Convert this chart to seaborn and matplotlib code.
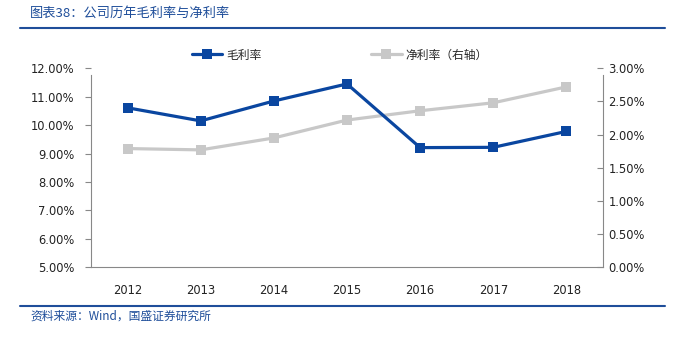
import matplotlib
matplotlib.use("Agg")
import matplotlib.pyplot as plt
import seaborn as sns
import pandas as pd
from matplotlib.lines import Line2D
from matplotlib.ticker import FuncFormatter, FixedLocator

years = ["2012", "2013", "2014", "2015", "2016", "2017", "2018"]
gross_margin = [10.61, 10.15, 10.85, 11.45, 9.21, 9.22, 9.78]
net_margin = [1.79, 1.77, 1.95, 2.22, 2.36, 2.48, 2.72]
left_ticks = [5, 6, 7, 8, 9, 10, 11, 12]
right_ticks = [0, 0.5, 1.0, 1.5, 2.0, 2.5, 3.0]

title_text = "图表38：公司历年毛利率与净利率"
source_text = "资料来源：Wind，国盛证券研究所"
label_gm = "毛利率"
label_nm = "净利率（右轴）"

BLUE = "#0A46A0"
GRAY = "#C8C8C8"
TXTBLUE = "#1F4E9A"

sns.set_style("white")
plt.rcParams['font.family'] = ['DejaVu Sans', 'Noto Sans CJK SC']
cjk = ['Noto Sans CJK SC', 'DejaVu Sans']

df = pd.DataFrame({"year": years, "gm": gross_margin, "nm": net_margin})

fig = plt.figure(figsize=(6.77, 3.39), dpi=100)
ax = fig.add_axes([91/677, 1-267.3/339, (603-91)/677, (267.3-68.3)/339])
ax2 = ax.twinx()

sns.lineplot(data=df, x="year", y="nm", ax=ax2, color=GRAY, lw=2.3,
             marker="s", markersize=7, markeredgewidth=0, sort=False)
sns.lineplot(data=df, x="year", y="gm", ax=ax, color=BLUE, lw=2.3,
             marker="s", markersize=7, markeredgewidth=0, sort=False)
ax.set_zorder(ax2.get_zorder() + 1)
ax.patch.set_visible(False)

ax.set_xlim(-0.5, len(years) - 0.5)
ax.set_ylim(5, 12)
ax2.set_ylim(0, 3)
ax.set_xlabel("")
ax.set_ylabel("")
ax2.set_ylabel("")

ax.yaxis.set_major_locator(FixedLocator(left_ticks))
ax2.yaxis.set_major_locator(FixedLocator(right_ticks))
ax.yaxis.set_major_formatter(FuncFormatter(lambda v, p: f"{v:.2f}%"))
ax2.yaxis.set_major_formatter(FuncFormatter(lambda v, p: f"{v:.2f}%"))

ax.set_xticks(range(len(years)))
ax.set_xticklabels(years)
ax.set_xticks([i + 0.5 for i in range(len(years) - 1)], minor=True)
ax.tick_params(axis="x", which="major", length=0, labelsize=8.3, colors="#222222", pad=12)
ax.tick_params(axis="x", which="minor", length=4, direction="in", color="#888888", width=0.8)
ax.tick_params(axis="y", which="major", length=4, direction="out", color="#888888",
               width=0.8, labelsize=8.3, labelcolor="#222222", pad=8)
ax2.tick_params(axis="y", which="major", length=4, direction="in", color="#888888",
                width=0.8, labelsize=8.3, labelcolor="#222222", pad=4)

for a in (ax, ax2):
    for s in a.spines.values():
        s.set_visible(False)
ax.spines["left"].set_visible(True)
ax.spines["left"].set_color("#888888")
ax.spines["left"].set_linewidth(0.8)
ax.spines["left"].set_bounds(5, 11.75)
ax.spines["bottom"].set_visible(True)
ax.spines["bottom"].set_color("#888888")
ax.spines["bottom"].set_linewidth(0.8)
ax2.spines["right"].set_visible(True)
ax2.spines["right"].set_color("#888888")
ax2.spines["right"].set_linewidth(0.8)
ax2.spines["right"].set_bounds(0, 2.9)

handles = [Line2D([], [], color=BLUE, lw=2.3, marker="s", markersize=7, markeredgewidth=0),
           Line2D([], [], color=GRAY, lw=2.3, marker="s", markersize=7, markeredgewidth=0)]
leg = fig.legend(handles, [label_gm, label_nm], loc="center left",
                 bbox_to_anchor=(181/677, 1-55/339), ncol=2, frameon=False,
                 handlelength=2.6, handletextpad=0.3, columnspacing=9.3,
                 prop={'family': cjk, 'size': 8.5})

fig.text(30/677, 1-13/339, title_text, fontsize=9.5, color=TXTBLUE,
         family=cjk, va="center", ha="left", style="italic")
fig.add_artist(Line2D([20/677, 665/677], [1-28/339, 1-28/339], color=TXTBLUE, lw=1.5))
fig.add_artist(Line2D([20/677, 665/677], [1-305.5/339, 1-305.5/339], color=TXTBLUE, lw=1.5))
fig.text(30/677, 1-316/339, source_text, fontsize=8.5, color=TXTBLUE,
         family=cjk, va="center", ha="left", style="italic")

fig.savefig("out.png", dpi=100)
